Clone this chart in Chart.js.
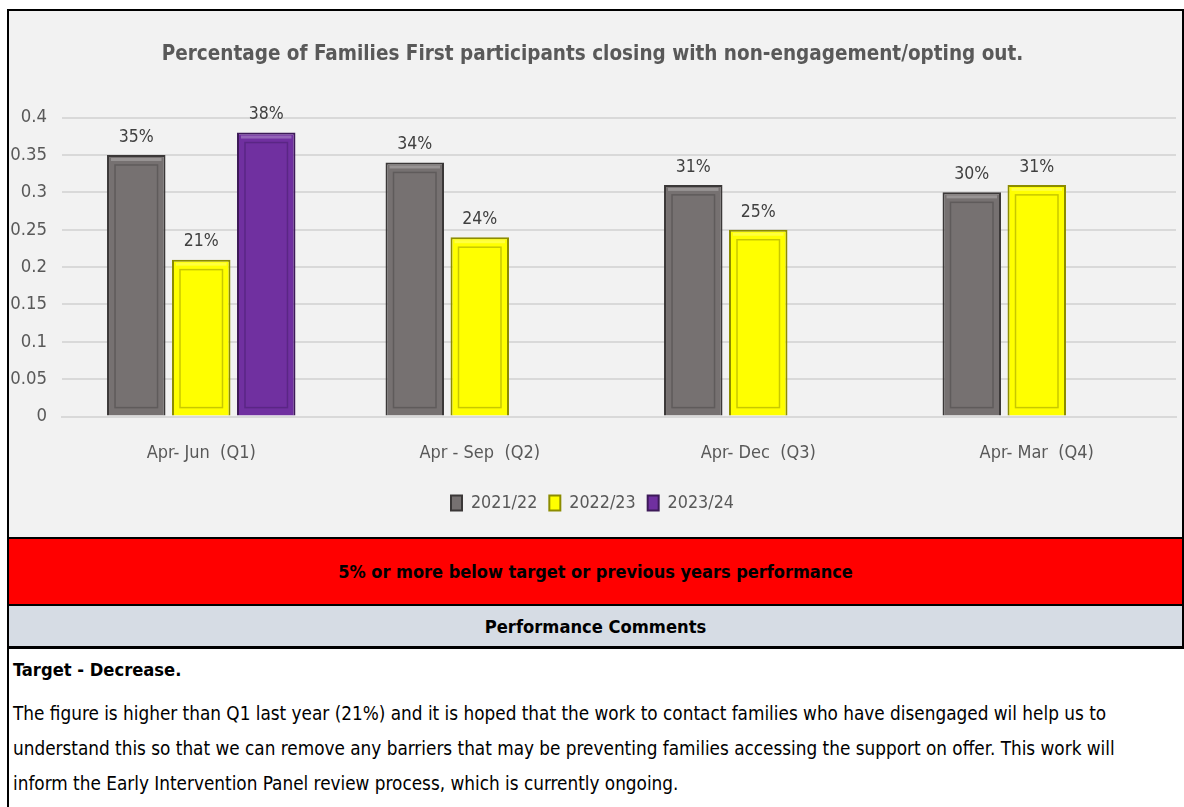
<!DOCTYPE html>
<html>
<head>
<meta charset="utf-8">
<script src="https://cdn.jsdelivr.net/npm/chart.js@4.4.0/dist/chart.umd.min.js"></script>
<style>
  html, body { margin:0; padding:0; background:#ffffff; width:1184px; height:807px; overflow:hidden; }
  body { font-family: "DejaVu Sans Condensed", "DejaVu Sans", sans-serif; }
  #chartBox { position:absolute; left:7px; top:9px; width:1173px; height:526px; background:#f2f2f2; border:2px solid #000; border-bottom:none; }
  #chartWrap { position:absolute; left:0; top:0; width:1173px; height:526px; }
  #redBand { position:absolute; left:7px; top:537px; width:1173px; height:65px; background:#ff0000; border:2px solid #000; display:flex; align-items:center; justify-content:center; font-weight:bold; font-size:18px; color:#000; }
  #commentsHead { position:absolute; left:7px; top:606px; width:1173px; height:40px; background:#d6dce4; border:2px solid #000; border-top:none; display:flex; align-items:center; justify-content:center; font-weight:bold; font-size:18.2px; color:#000; }
  #comments { position:absolute; left:7px; top:647px; width:1177px; height:170px; background:#fff; border-left:2px solid #000; border-top:2px solid #000; }
  #comments .t { position:absolute; left:4px; top:10px; font-weight:bold; font-size:18.2px; color:#000; }
  #comments .p { position:absolute; left:4px; top:47px; width:1172px; font-size:18.8px; line-height:35px; color:#000; white-space:nowrap; }
</style>
</head>
<body>
<div id="chartBox"><div id="chartWrap"><canvas id="c" width="1173" height="526"></canvas></div></div>
<div id="redBand">5% or more below target or previous years performance</div>
<div id="commentsHead">Performance Comments</div>
<div id="comments">
  <div class="t">Target - Decrease.</div>
  <div class="p">The figure is higher than Q1 last year (21%) and it is hoped that the work to contact families who have disengaged wil help us to<br>understand this so that we can remove any barriers that may be preventing families accessing the support on offer. This work will<br>inform the Early Intervention Panel review process, which is currently ongoing.</div>
</div>
<script>
const categories = ["Apr- Jun  (Q1)", "Apr - Sep  (Q2)", "Apr- Dec  (Q3)", "Apr- Mar  (Q4)"];
const seriesNames = ["2021/22", "2022/23", "2023/24"];
const values2122 = [0.35, 0.34, 0.31, 0.30];
const values2223 = [0.21, 0.24, 0.25, 0.31];
const values2324 = [0.38, null, null, null];
const yTicks = [0, 0.05, 0.1, 0.15, 0.2, 0.25, 0.3, 0.35, 0.4];

const FONT = '"DejaVu Sans Condensed", "DejaVu Sans", sans-serif';
const fills = ["#767171", "#ffff00", "#7030a0"];
const borders = ["#3b3838", "#8c8c00", "#3d1a58"];
const inner = ["#5f5b5b", "#c8c800", "#5a2685"];

const labelPlugin = {
  id: 'valueLabels',
  afterDatasetsDraw(chart) {
    const ctx = chart.ctx;
    ctx.save();
    chart.data.datasets.forEach((ds, i) => {
      const meta = chart.getDatasetMeta(i);
      meta.data.forEach((bar, j) => {
        const v = ds.data[j];
        if (v === null || v === undefined) return;
        const w = bar.width, left = bar.x - w/2, top = bar.y, bottom = bar.base;
        ctx.strokeStyle = inner[i];
        ctx.lineWidth = 1.5;
        ctx.strokeRect(left + 8, top + 10, w - 16, bottom - top - 18);
        ctx.fillStyle = "rgba(255,255,255,0.25)";
        ctx.fillRect(left + 4, top + 3, w - 8, 3);
        ctx.fillStyle = "#404040";
        ctx.font = '17.5px ' + FONT;
        ctx.textAlign = 'center';
        ctx.textBaseline = 'bottom';
        ctx.fillText(Math.round(v * 100) + '%', bar.x, bar.y - 9);
      });
    });
    ctx.restore();
  }
};

new Chart(document.getElementById('c'), {
  type: 'bar',
  data: {
    labels: categories,
    datasets: [
      { label: seriesNames[0], data: values2122, backgroundColor: fills[0], borderColor: borders[0], borderWidth: 2 },
      { label: seriesNames[1], data: values2223, backgroundColor: fills[1], borderColor: borders[1], borderWidth: 2 },
      { label: seriesNames[2], data: values2324, backgroundColor: fills[2], borderColor: borders[2], borderWidth: 2 }
    ]
  },
  options: {
    responsive: false,
    animation: false,
    devicePixelRatio: 1,
    datasets: { bar: { categoryPercentage: 0.70, barPercentage: 0.9 } },
    layout: { padding: { left: 0, right: 6, top: 0, bottom: 15 } },
    plugins: {
      title: {
        display: true,
        text: 'Percentage of Families First participants closing with non-engagement/opting out.',
        color: '#595959',
        font: { family: FONT, size: 20.5, weight: 'bold' },
        padding: { top: 31, bottom: 51 }
      },
      legend: {
        position: 'bottom',
        labels: {
          color: '#595959',
          font: { family: FONT, size: 17.8 },
          boxWidth: 11, boxHeight: 15, padding: 12
        }
      },
      tooltip: { enabled: false }
    },
    scales: {
      x: {
        grid: { display: false },
        border: { color: '#d9d9d9', width: 2 },
        ticks: { color: '#595959', font: { family: FONT, size: 18 }, padding: 18 }
      },
      y: {
        min: 0, max: 0.4,
        afterBuildTicks(axis) { axis.ticks = yTicks.map(v => ({ value: v })); },
        afterFit(axis) { axis.width = 53; },
        grid: { color: '#d9d9d9', lineWidth: 2, drawTicks: false },
        border: { display: false },
        ticks: { color: '#595959', font: { family: FONT, size: 18.4 }, padding: 15,
                 callback: v => String(Math.round(v * 100) / 100) }
      }
    }
  },
  plugins: [labelPlugin]
});
</script>
</body>
</html>
